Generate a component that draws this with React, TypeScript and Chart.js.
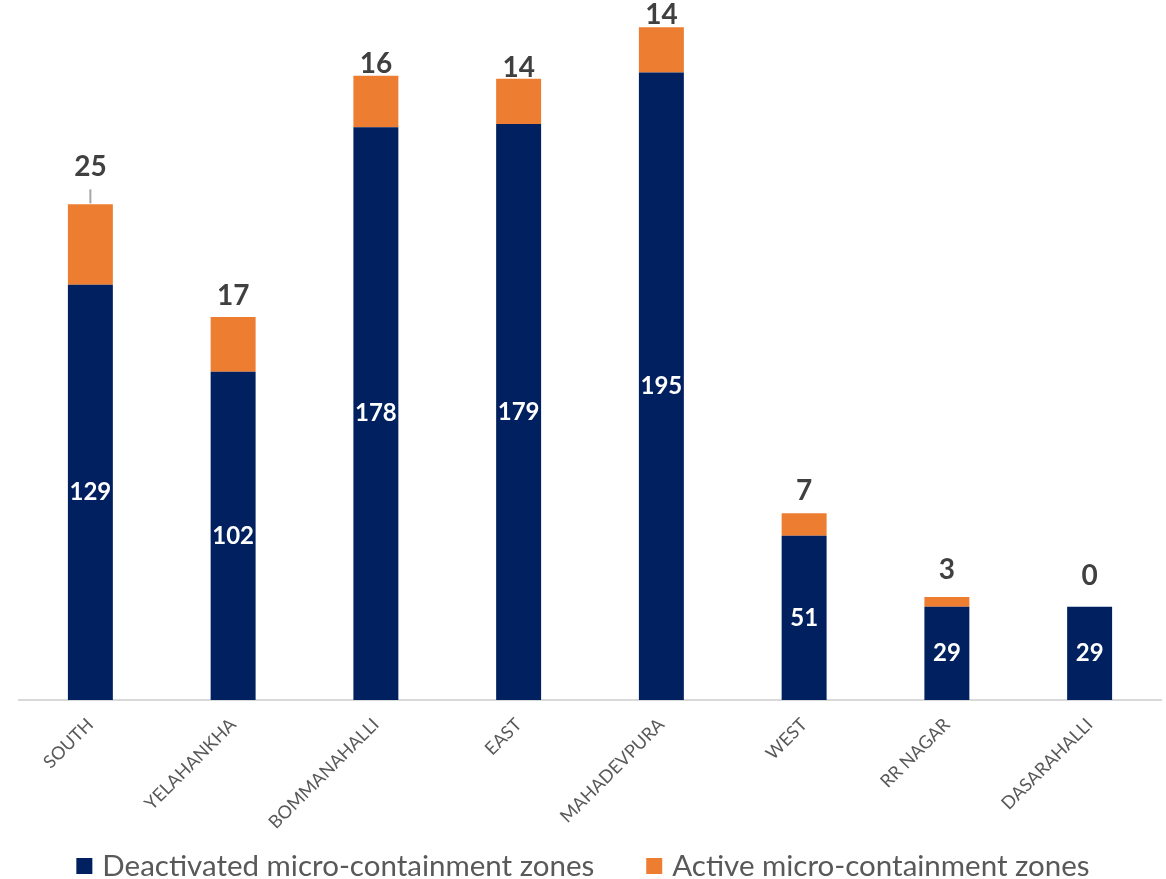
import React, { useEffect, useRef } from "react";
import { Chart, registerables } from "chart.js";

Chart.register(...registerables);

const categories = ["SOUTH", "YELAHANKHA", "BOMMANAHALLI", "EAST", "MAHADEVPURA", "WEST", "RR NAGAR", "DASARAHALLI"];
const deactivated = [129, 102, 178, 179, 195, 51, 29, 29];
const active = [25, 17, 16, 14, 14, 7, 3, 0];
const seriesNames = ["Deactivated micro-containment zones", "Active micro-containment zones"];
const seriesColors = ["#002060", "#ED7D31"];
// vertical lift (px) of the active-zone labels above each bar top
const totalLabelLift = [37, 21, 12, 11, 12, 22, 27, 31];

const FONT = "Lato, 'Open Sans', sans-serif";

const labelPlugin = {
  id: "labelPlugin",
  afterDatasetsDraw(chart: any) {
    const ctx = chart.ctx;
    ctx.save();
    const m0 = chart.getDatasetMeta(0);
    const m1 = chart.getDatasetMeta(1);
    ctx.textAlign = "center";
    ctx.textBaseline = "middle";
    ctx.font = `bold 24px ${FONT}`;
    ctx.fillStyle = "#ffffff";
    m0.data.forEach((bar: any, i: number) => {
      ctx.fillText(String(chart.data.datasets[0].data[i]), bar.x, (bar.y + bar.base) / 2);
    });
    ctx.font = `bold 28px ${FONT}`;
    m1.data.forEach((bar: any, i: number) => {
      const lift = totalLabelLift[i];
      const y = bar.y - lift;
      ctx.fillStyle = "#404040";
      ctx.fillText(String(chart.data.datasets[1].data[i]), bar.x, y);
      if (i === 0) {
        ctx.strokeStyle = "#a6a6a6";
        ctx.lineWidth = 2;
        ctx.beginPath();
        ctx.moveTo(bar.x, y + 22);
        ctx.lineTo(bar.x, bar.y - 1);
        ctx.stroke();
      }
    });
    ctx.restore();
  },
  afterDraw(chart: any) {
    const ctx = chart.ctx;
    ctx.save();
    ctx.font = `29.5px ${FONT}`;
    ctx.textBaseline = "middle";
    ctx.textAlign = "left";
    const box = 16;
    const gapBoxText = 10;
    const gapItems = 52;
    const widths = seriesNames.map((n) => box + gapBoxText + ctx.measureText(n).width);
    const total = widths.reduce((a, b) => a + b, 0) + gapItems * (widths.length - 1);
    let x = (chart.width - total) / 2;
    const yc = 866;
    seriesNames.forEach((n, i) => {
      ctx.fillStyle = seriesColors[i];
      ctx.fillRect(x, yc - box / 2, box, box);
      ctx.fillStyle = "#595959";
      ctx.fillText(n, x + box + gapBoxText, yc);
      x += widths[i] + gapItems;
    });
    ctx.restore();
  },
};

export default function App() {
  const ref = useRef<HTMLCanvasElement | null>(null);
  useEffect(() => {
    document.body.style.margin = "0";
    const chart = new Chart(ref.current as HTMLCanvasElement, {
      type: "bar",
      data: {
        labels: categories,
        datasets: [
          {
            label: seriesNames[0],
            data: deactivated,
            backgroundColor: seriesColors[0],
            categoryPercentage: 1,
            barPercentage: 0.315,
          },
          {
            label: seriesNames[1],
            data: active,
            backgroundColor: seriesColors[1],
            categoryPercentage: 1,
            barPercentage: 0.315,
          },
        ],
      },
      options: {
        animation: false,
        responsive: false,
        layout: { padding: { left: 19, right: 5, top: 0, bottom: 0 } },
        plugins: { legend: { display: false }, tooltip: { enabled: false } },
        scales: {
          x: {
            stacked: true,
            grid: { display: false },
            border: { color: "#d9d9d9", width: 2 },
            ticks: {
              color: "#595959",
              font: { size: 18, family: FONT },
              maxRotation: 45,
              minRotation: 45,
              padding: 6,
            },
            afterFit: (s: any) => {
              s.height = 179;
            },
          },
          y: {
            stacked: true,
            display: false,
            min: 0,
            max: 217.5,
          },
        },
      },
      plugins: [labelPlugin],
    });
    return () => chart.destroy();
  }, []);
  return (
    <div style={{ width: 1166, height: 879 }}>
      <canvas ref={ref} width={1166} height={879} />
    </div>
  );
}
